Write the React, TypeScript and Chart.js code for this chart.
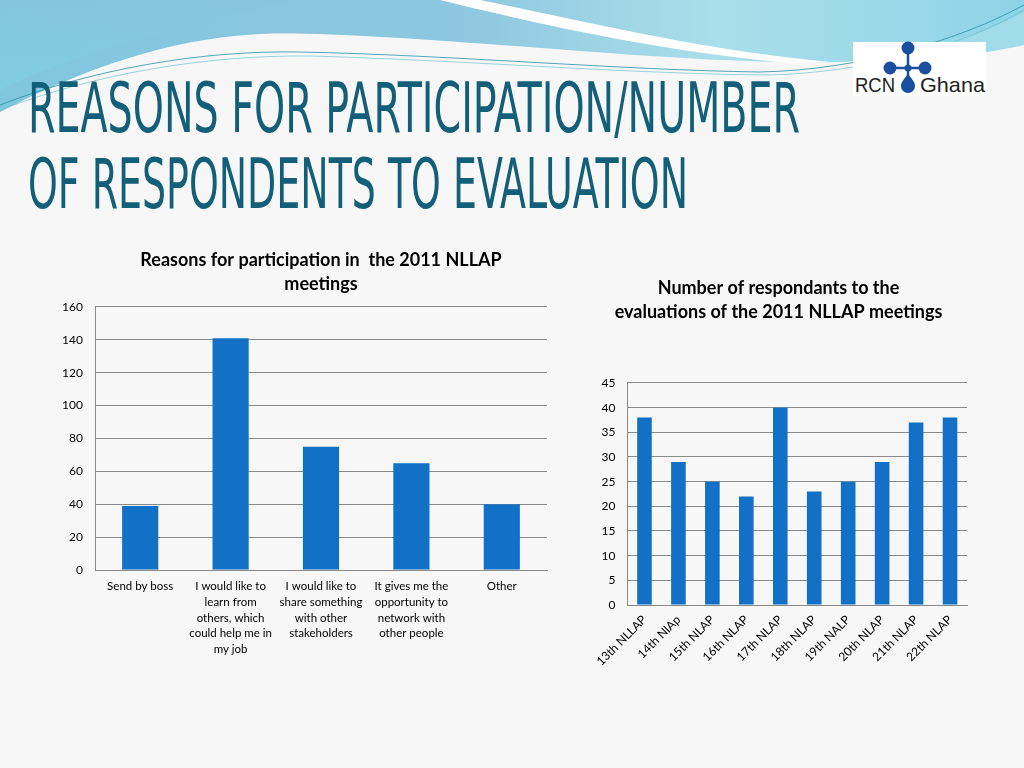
import React, { useEffect, useRef } from "react";
import { Chart, registerables } from "chart.js";

Chart.register(...registerables);

// ---------- Data ----------
const leftTitle = ["Reasons for participation in  the 2011 NLLAP", "meetings"];
const leftCategories: (string | string[])[] = [
  "Send by boss",
  ["I would like to", "learn from", "others, which", "could help me in", "my job"],
  ["I would like to", "share something", "with other", "stakeholders"],
  ["It gives me the", "opportunity to", "network with", "other people"],
  "Other",
];
const leftValues = [39, 141, 75, 65, 40];
const leftMax = 160;
const leftStep = 20;

const rightTitle = ["Number of respondants to the", "evaluations of the 2011 NLLAP meetings"];
const rightCategories = [
  "13th NLLAP",
  "14th NlAp",
  "15th NLAP",
  "16th NLAP",
  "17th NLAP",
  "18th NLAP",
  "19th NALP",
  "20th NLAP",
  "21th NLAP",
  "22th NLAP",
];
const rightValues = [38, 29, 25, 22, 40, 23, 25, 29, 37, 38];
const rightMax = 45;
const rightStep = 5;

const slideTitle = ["REASONS FOR PARTICIPATION/NUMBER", "OF RESPONDENTS TO EVALUATION"];

// ---------- Styles ----------
const BAR = "#1270C6";
const GRID = "#8a8a8a";
const FONT = "Lato";

type ChartCfg = {
  title: string[];
  titleFull: boolean;
  labels: (string | string[])[];
  values: number[];
  max: number;
  step: number;
  titlePad: { top: number; bottom: number };
  yWidth: number;
  xHeight: number;
  rightPad: number;
  barPct: number;
  xFont: number;
  xPad: number;
  rotate: number;
};

function BarChart({ cfg, style }: { cfg: ChartCfg; style: React.CSSProperties }) {
  const ref = useRef<HTMLCanvasElement | null>(null);
  useEffect(() => {
    if (!ref.current) return;
    const chart = new Chart(ref.current, {
      type: "bar",
      data: {
        labels: cfg.labels as any,
        datasets: [
          {
            data: cfg.values,
            backgroundColor: BAR,
            borderWidth: 0,
            barPercentage: cfg.barPct,
            categoryPercentage: 1,
          },
        ],
      },
      options: {
        animation: false,
        responsive: true,
        maintainAspectRatio: false,
        layout: { padding: { left: 0, right: cfg.rightPad, top: 0, bottom: 0 } },
        plugins: {
          legend: { display: false },
          tooltip: { enabled: false },
          title: {
            display: true,
            fullSize: cfg.titleFull,
            text: cfg.title,
            color: "#000",
            font: { family: FONT, size: 18, weight: "bold", lineHeight: 1.3333 },
            padding: cfg.titlePad,
          },
        },
        scales: {
          x: {
            grid: { display: false, drawTicks: false },
            border: { display: true, color: GRID, width: 1 },
            ticks: {
              color: "#000",
              font: { family: FONT, size: cfg.xFont, lineHeight: 1.35 },
              padding: cfg.xPad,
              autoSkip: false,
              maxRotation: cfg.rotate,
              minRotation: cfg.rotate,
            },
            afterFit: (scale: any) => {
              scale.height = cfg.xHeight;
            },
          },
          y: {
            min: 0,
            max: cfg.max,
            grid: { color: GRID, lineWidth: 1, drawTicks: false },
            border: { display: true, color: GRID, width: 1 },
            ticks: {
              stepSize: cfg.step,
              color: "#000",
              font: { family: FONT, size: 12 },
              padding: 12,
            },
            afterFit: (scale: any) => {
              scale.width = cfg.yWidth;
            },
          },
        },
      },
    });
    return () => chart.destroy();
  }, []);
  return (
    <div style={{ position: "absolute", ...style }}>
      <canvas ref={ref} />
    </div>
  );
}

const leftCfg: ChartCfg = {
  title: leftTitle,
  titleFull: false,
  labels: leftCategories,
  values: leftValues,
  max: leftMax,
  step: leftStep,
  titlePad: { top: 3, bottom: 11 },
  yWidth: 45,
  xHeight: 95,
  rightPad: 13,
  barPct: 0.4,
  xFont: 11.5,
  xPad: 9,
  rotate: 0,
};

const rightCfg: ChartCfg = {
  title: rightTitle,
  titleFull: true,
  labels: rightCategories,
  values: rightValues,
  max: rightMax,
  step: rightStep,
  titlePad: { top: 6, bottom: 59 },
  yWidth: 33,
  xHeight: 75,
  rightPad: 23,
  barPct: 0.43,
  xFont: 12,
  xPad: 7,
  rotate: 45,
};

function Background() {
  return (
    <svg width={1024} height={768} style={{ position: "absolute", left: 0, top: 0 }}>
      <defs>
        <linearGradient id="topg" x1="0" y1="0" x2="1" y2="0">
          <stop offset="0" stopColor="#80c6de" />
          <stop offset="0.45" stopColor="#8ec7df" />
          <stop offset="0.7" stopColor="#aadeea" />
          <stop offset="1" stopColor="#8ed4e6" />
        </linearGradient>
        <linearGradient id="leftg" x1="0" y1="0" x2="0" y2="1">
          <stop offset="0" stopColor="#86c2dc" />
          <stop offset="1" stopColor="#7fd8e8" />
        </linearGradient>
      </defs>
      <rect x={0} y={0} width={1024} height={768} fill="#f7f7f7" />
      <path
        d="M0,0 H1024 V42 C980,52 920,60 840,62 C720,64 600,52 500,45 C400,38 320,32 260,34 C170,38 80,70 0,112 Z"
        fill="url(#topg)"
      />
      <path d="M0,0 H300 C200,20 80,50 0,90 Z" fill="url(#leftg)" opacity={0.35} />
      <path d="M440,0 C530,22 650,50 790,63 L830,62 C700,50 580,20 480,0 Z" fill="#ffffff" />
      <path d="M860,62 C930,52 990,30 1024,12 L1024,45 C980,55 920,62 860,62 Z" fill="#9fdbe8" />
      <path d="M0,105 C90,70 200,50 300,52 C450,55 620,70 760,72 C860,70 960,40 1024,5" stroke="#2a8fa8" strokeWidth={0.8} fill="none" />
      <path d="M0,110 C100,72 210,55 310,56 C460,60 630,74 770,75 C870,72 965,45 1024,10" stroke="#5bb8c9" strokeWidth={0.6} fill="none" />
    </svg>
  );
}

function Logo() {
  const c = "#1a4e9e";
  return (
    <svg width={1024} height={768} style={{ position: "absolute", left: 0, top: 0 }}>
      <rect x={853} y={42} width={133} height={54} fill="#ffffff" />
      <line x1={908} y1={48} x2={908} y2={82} stroke={c} strokeWidth={2.5} />
      <line x1={890} y1={68} x2={925} y2={68} stroke={c} strokeWidth={2.5} />
      <circle cx={908} cy={48} r={6.5} fill={c} />
      <circle cx={890} cy={68} r={6.5} fill={c} />
      <circle cx={925} cy={68} r={6.5} fill={c} />
      <circle cx={908} cy={68} r={3.5} fill={c} />
      <path d="M908,74 C912,79 915,82 915,86 A7,7 0 0 1 901,86 C901,82 904,79 908,74 Z" fill={c} />
      <text x={855} y={92} fontFamily="Liberation Sans" fontSize={21} fill="#222" textLength={40} lengthAdjust="spacingAndGlyphs">
        RCN
      </text>
      <text x={920} y={92} fontFamily="Liberation Sans" fontSize={21} fill="#222" textLength={65} lengthAdjust="spacingAndGlyphs">
        Ghana
      </text>
    </svg>
  );
}

function Title() {
  const col = "#135f7a";
  return (
    <svg width={1024} height={768} style={{ position: "absolute", left: 0, top: 0 }}>
      <text
        x={28}
        y={132}
        fontFamily="DejaVu Sans Condensed, DejaVu Sans"
        fontSize={69}
        fill={col}
        textLength={772}
        lengthAdjust="spacingAndGlyphs"
      >
        {slideTitle[0]}
      </text>
      <text
        x={28}
        y={208}
        fontFamily="DejaVu Sans Condensed, DejaVu Sans"
        fontSize={69}
        fill={col}
        textLength={660}
        lengthAdjust="spacingAndGlyphs"
      >
        {slideTitle[1]}
      </text>
    </svg>
  );
}

export default function App() {
  useEffect(() => {
    document.body.style.margin = "0";
  }, []);
  return (
    <div style={{ position: "absolute", left: 0, top: 0, width: 1024, height: 768, overflow: "hidden" }}>
      <Background />
      <Title />
      <Logo />
      <BarChart cfg={leftCfg} style={{ left: 50, top: 245, width: 510, height: 420 }} />
      <BarChart cfg={rightCfg} style={{ left: 590, top: 270, width: 400, height: 410 }} />
    </div>
  );
}
